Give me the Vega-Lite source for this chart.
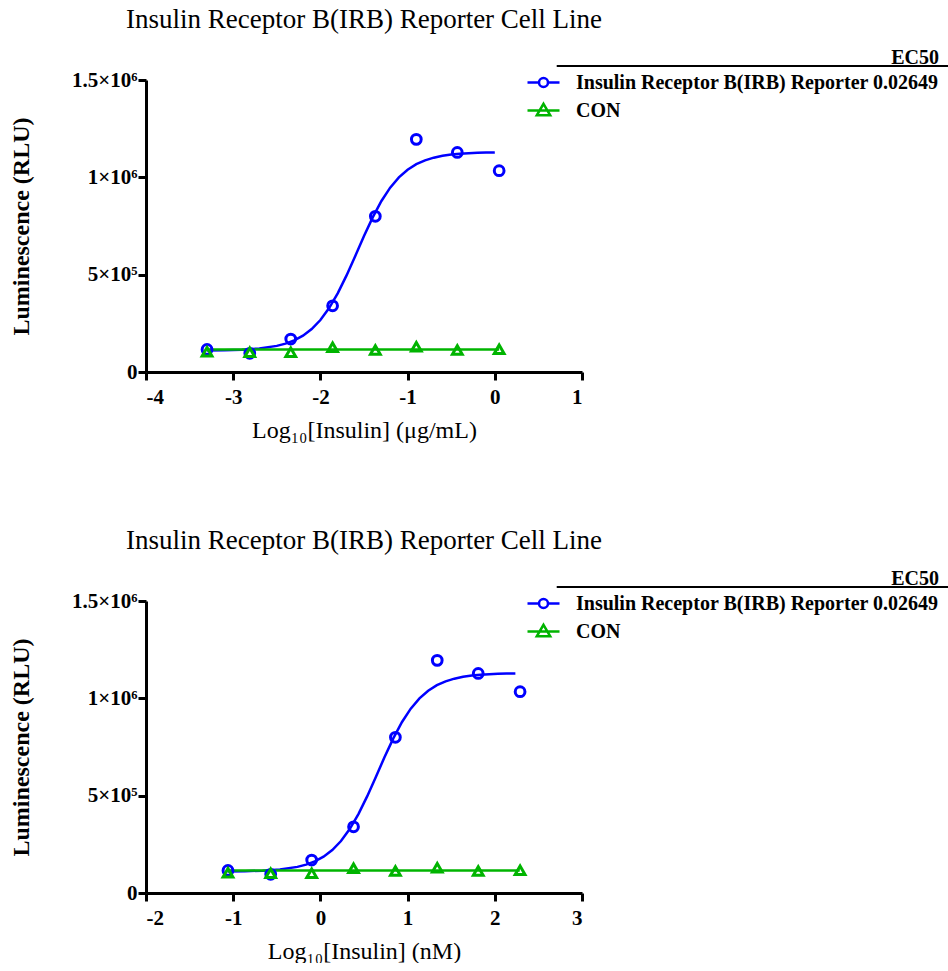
{
  "$schema": "https://vega.github.io/schema/vega-lite/v6.json",
  "background": "white",
  "padding": {"left": 9, "top": 6, "right": 0, "bottom": 0},
  "config": {
    "view": {"stroke": null},
    "font": "Liberation Serif",
    "axis": {
      "grid": false,
      "domainColor": "black", "domainWidth": 3,
      "tickColor": "black", "tickWidth": 3, "tickSize": 8,
      "labelFont": "Liberation Serif", "labelFontWeight": "bold", "labelFontSize": 21, "labelColor": "black",
      "titleFont": "Liberation Serif", "titleColor": "black", "titleFontSize": 24
    },
    "axisX": {"labelPadding": 6, "titlePadding": 11},
    "axisY": {"labelPadding": 1, "titlePadding": 38},
    "legend": {"orient": "none", "legendX": 380, "legendY": -32, "titleAnchor": "end",
      "titleFont": "Liberation Serif", "titleFontSize": 20, "titleFontWeight": "bold", "titleColor": "black", "titlePadding": -3,
      "labelFont": "Liberation Serif", "labelFontSize": 20, "labelFontWeight": "bold", "labelColor": "black", "labelOffset": 15,
      "symbolSize": 1024, "symbolStrokeWidth": 2.5, "symbolOpacity": 1, "symbolFillColor": "transparent", "rowPadding": -8, "labelLimit": 600},
    "title": {"font": "Liberation Serif", "fontSize": 27, "fontWeight": "normal", "color": "black", "offset": 14}
  },
  "datasets": {
    "pts": [
      {"s": "IRB", "ug": -3.30, "nm": -1.06, "rlu": 116000},
      {"s": "IRB", "ug": -2.81, "nm": -0.57, "rlu": 96000},
      {"s": "IRB", "ug": -2.34, "nm": -0.10, "rlu": 169000},
      {"s": "IRB", "ug": -1.86, "nm": 0.38, "rlu": 340000},
      {"s": "IRB", "ug": -1.37, "nm": 0.86, "rlu": 800000},
      {"s": "IRB", "ug": -0.90, "nm": 1.34, "rlu": 1195000},
      {"s": "IRB", "ug": -0.43, "nm": 1.81, "rlu": 1128000},
      {"s": "IRB", "ug": 0.05, "nm": 2.29, "rlu": 1034000},
      {"s": "CON", "ug": -3.30, "nm": -1.06, "rlu": 104000},
      {"s": "CON", "ug": -2.81, "nm": -0.57, "rlu": 101000},
      {"s": "CON", "ug": -2.34, "nm": -0.10, "rlu": 101000},
      {"s": "CON", "ug": -1.86, "nm": 0.38, "rlu": 127000},
      {"s": "CON", "ug": -1.37, "nm": 0.86, "rlu": 113000},
      {"s": "CON", "ug": -0.90, "nm": 1.34, "rlu": 130000},
      {"s": "CON", "ug": -0.43, "nm": 1.81, "rlu": 113000},
      {"s": "CON", "ug": 0.05, "nm": 2.29, "rlu": 117000}
    ],
    "fit": [
      {"s": "IRB", "ug": -3.30, "nm": -1.064, "rlu": 111000},
      {"s": "IRB", "ug": -3.10, "nm": -0.864, "rlu": 112200},
      {"s": "IRB", "ug": -2.90, "nm": -0.664, "rlu": 114900},
      {"s": "IRB", "ug": -2.70, "nm": -0.464, "rlu": 120900},
      {"s": "IRB", "ug": -2.50, "nm": -0.264, "rlu": 134200},
      {"s": "IRB", "ug": -2.40, "nm": -0.164, "rlu": 145800},
      {"s": "IRB", "ug": -2.30, "nm": -0.064, "rlu": 162500},
      {"s": "IRB", "ug": -2.20, "nm": 0.036, "rlu": 186700},
      {"s": "IRB", "ug": -2.10, "nm": 0.136, "rlu": 220700},
      {"s": "IRB", "ug": -2.00, "nm": 0.236, "rlu": 267000},
      {"s": "IRB", "ug": -1.90, "nm": 0.336, "rlu": 328300},
      {"s": "IRB", "ug": -1.80, "nm": 0.436, "rlu": 405200},
      {"s": "IRB", "ug": -1.70, "nm": 0.536, "rlu": 496200},
      {"s": "IRB", "ug": -1.60, "nm": 0.636, "rlu": 596400},
      {"s": "IRB", "ug": -1.50, "nm": 0.736, "rlu": 698500},
      {"s": "IRB", "ug": -1.40, "nm": 0.836, "rlu": 794400},
      {"s": "IRB", "ug": -1.30, "nm": 0.936, "rlu": 878500},
      {"s": "IRB", "ug": -1.20, "nm": 1.036, "rlu": 946900},
      {"s": "IRB", "ug": -1.10, "nm": 1.136, "rlu": 999800},
      {"s": "IRB", "ug": -1.00, "nm": 1.236, "rlu": 1039200},
      {"s": "IRB", "ug": -0.90, "nm": 1.336, "rlu": 1067500},
      {"s": "IRB", "ug": -0.80, "nm": 1.436, "rlu": 1087400},
      {"s": "IRB", "ug": -0.70, "nm": 1.536, "rlu": 1101000},
      {"s": "IRB", "ug": -0.60, "nm": 1.636, "rlu": 1110500},
      {"s": "IRB", "ug": -0.50, "nm": 1.736, "rlu": 1116900},
      {"s": "IRB", "ug": -0.40, "nm": 1.836, "rlu": 1121200},
      {"s": "IRB", "ug": -0.30, "nm": 1.936, "rlu": 1124100},
      {"s": "IRB", "ug": -0.20, "nm": 2.036, "rlu": 1126000},
      {"s": "IRB", "ug": -0.10, "nm": 2.136, "rlu": 1127300},
      {"s": "IRB", "ug": 0.00, "nm": 2.236, "rlu": 1128200},
      {"s": "CON", "ug": -3.30, "nm": -1.064, "rlu": 115000},
      {"s": "CON", "ug": 0.05, "nm": 2.286, "rlu": 115000}
    ]
  },
  "vconcat": [
    {
      "width": 436, "height": 292,
      "title": "Insulin Receptor B(IRB) Reporter Cell Line",
      "layer": [
        {
          "data": {"name": "fit"},
          "mark": {"type": "line", "strokeWidth": 2.5},
          "encoding": {
            "x": {"field": "ug", "type": "quantitative", "scale": {"domain": [-4, 1], "nice": false},
                  "axis": {"values": [-4, -3, -2, -1, 0, 1], "format": "d", "labelExpr": "replace(datum.label, '−', '-')", "title": "Log₁₀[Insulin] (μg/mL)", "titleFontWeight": "normal"}},
            "y": {"field": "rlu", "type": "quantitative", "scale": {"domain": [0, 1500000], "nice": false},
                  "axis": {"values": [0, 500000, 1000000, 1500000], "labelExpr": "datum.value == 0 ? '0' : datum.value == 500000 ? '5×10⁵' : datum.value == 1000000 ? '1×10⁶' : '1.5×10⁶'", "title": "Luminescence (RLU)", "titleFontWeight": "bold"}},
            "stroke": {"field": "s", "type": "nominal", "scale": {"domain": ["IRB", "CON"], "range": ["#0000FF", "#00B400"]}, "legend": null},
            "detail": {"field": "s"}
          }
        },
        {
          "data": {"name": "pts"},
          "mark": {"type": "point", "filled": false, "strokeWidth": 3, "size": 95, "opacity": 1},
          "encoding": {
            "x": {"field": "ug", "type": "quantitative"},
            "y": {"field": "rlu", "type": "quantitative"},
            "stroke": {"field": "s", "type": "nominal", "legend": null},
            "shape": {"condition": {"test": "datum.s === 'CON'", "value": "triangle-up"}, "value": "circle"}
          }
        },
        {
          "data": {"name": "pts"},
          "mark": {"type": "point", "filled": false, "opacity": 0},
          "encoding": {
            "x": {"field": "ug", "type": "quantitative"},
            "y": {"field": "rlu", "type": "quantitative"},
            "color": {"field": "s", "type": "nominal", "scale": {"domain": ["IRB", "CON"], "range": ["#0000FF", "#00B400"]},
              "legend": {"title": "EC50", "labelExpr": "datum.value == 'IRB' ? 'Insulin Receptor B(IRB) Reporter 0.02649' : 'CON'"}},
            "shape": {"field": "s", "type": "nominal",
              "scale": {"domain": ["IRB", "CON"], "range": ["M-1,0L-0.28,0M0.28,0L1,0M-0.28,0A0.28,0.28,0,1,1,0.28,0A0.28,0.28,0,1,1,-0.28,0", "M-1,0L1,0M0,-0.42L0.42,0.3L-0.42,0.3Z"]},
              "legend": {"title": "EC50", "labelExpr": "datum.value == 'IRB' ? 'Insulin Receptor B(IRB) Reporter 0.02649' : 'CON'"}}
          }
        },
        {
          "data": {"values": [{}]},
          "mark": {"type": "rule", "color": "black", "strokeWidth": 2, "clip": false},
          "encoding": {"x": {"datum": 0.71}, "x2": {"datum": 5.2}, "y": {"datum": 1572000}}
        }
      ]
    },
    {
      "width": 436, "height": 292,
      "title": "Insulin Receptor B(IRB) Reporter Cell Line",
      "layer": [
        {
          "data": {"name": "fit"},
          "mark": {"type": "line", "strokeWidth": 2.5},
          "encoding": {
            "x": {"field": "nm", "type": "quantitative", "scale": {"domain": [-2, 3], "nice": false},
                  "axis": {"values": [-2, -1, 0, 1, 2, 3], "format": "d", "labelExpr": "replace(datum.label, '−', '-')", "title": "Log₁₀[Insulin] (nM)", "titleFontWeight": "normal"}},
            "y": {"field": "rlu", "type": "quantitative", "scale": {"domain": [0, 1500000], "nice": false},
                  "axis": {"values": [0, 500000, 1000000, 1500000], "labelExpr": "datum.value == 0 ? '0' : datum.value == 500000 ? '5×10⁵' : datum.value == 1000000 ? '1×10⁶' : '1.5×10⁶'", "title": "Luminescence (RLU)", "titleFontWeight": "bold"}},
            "stroke": {"field": "s", "type": "nominal", "scale": {"domain": ["IRB", "CON"], "range": ["#0000FF", "#00B400"]}, "legend": null},
            "detail": {"field": "s"}
          }
        },
        {
          "data": {"name": "pts"},
          "mark": {"type": "point", "filled": false, "strokeWidth": 3, "size": 95, "opacity": 1},
          "encoding": {
            "x": {"field": "nm", "type": "quantitative"},
            "y": {"field": "rlu", "type": "quantitative"},
            "stroke": {"field": "s", "type": "nominal", "legend": null},
            "shape": {"condition": {"test": "datum.s === 'CON'", "value": "triangle-up"}, "value": "circle"}
          }
        },
        {
          "data": {"name": "pts"},
          "mark": {"type": "point", "filled": false, "opacity": 0},
          "encoding": {
            "x": {"field": "nm", "type": "quantitative"},
            "y": {"field": "rlu", "type": "quantitative"},
            "color": {"field": "s", "type": "nominal", "scale": {"domain": ["IRB", "CON"], "range": ["#0000FF", "#00B400"]},
              "legend": {"title": "EC50", "labelExpr": "datum.value == 'IRB' ? 'Insulin Receptor B(IRB) Reporter 0.02649' : 'CON'"}},
            "shape": {"field": "s", "type": "nominal",
              "scale": {"domain": ["IRB", "CON"], "range": ["M-1,0L-0.28,0M0.28,0L1,0M-0.28,0A0.28,0.28,0,1,1,0.28,0A0.28,0.28,0,1,1,-0.28,0", "M-1,0L1,0M0,-0.42L0.42,0.3L-0.42,0.3Z"]},
              "legend": {"title": "EC50", "labelExpr": "datum.value == 'IRB' ? 'Insulin Receptor B(IRB) Reporter 0.02649' : 'CON'"}}
          }
        },
        {
          "data": {"values": [{}]},
          "mark": {"type": "rule", "color": "black", "strokeWidth": 2, "clip": false},
          "encoding": {"x": {"datum": 2.71}, "x2": {"datum": 7.2}, "y": {"datum": 1572000}}
        }
      ]
    }
  ],
  "spacing": 85,
  "resolve": {"scale": {"x": "independent"}, "legend": {"color": "independent", "shape": "independent"}}
}
